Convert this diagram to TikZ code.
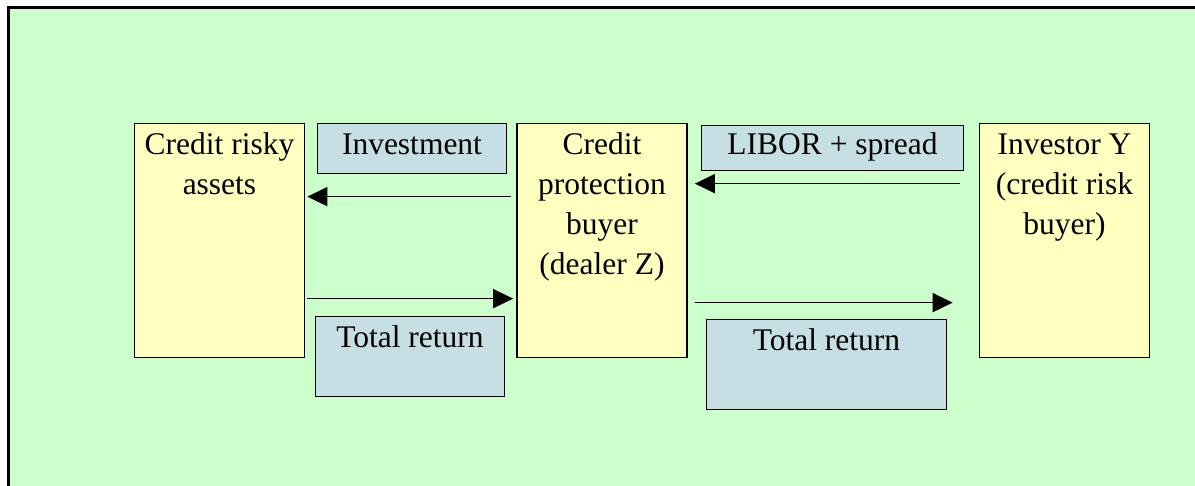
\documentclass[tikz,border=0pt]{standalone}
\usepackage{fontspec}
\setmainfont{Liberation Serif}
\usetikzlibrary{arrows.meta}
\definecolor{bggreen}{RGB}{204,255,204}
\definecolor{partyyellow}{RGB}{255,255,192}
\definecolor{flowblue}{RGB}{197,223,228}
\begin{document}
\begin{tikzpicture}[x=1pt,y=1pt,
  party/.style={draw=black, line width=1.7pt, fill=partyyellow,
    minimum width=170pt, minimum height=234pt, inner sep=0pt},
  flowbox/.style={draw=black, line width=1.7pt, fill=flowblue, inner sep=0pt},
  boxtext/.style={anchor=north, inner sep=0pt, align=center,
    font=\fontsize{31.5}{40}\selectfont},
  flowarrow/.style={line width=1.7pt, -{Triangle[length=20pt,width=19pt]}}]
  \useasboundingbox (0,0) rectangle (1195,486);
  \clip (0,0) rectangle (1195,486);
  % page background and frame
  \fill[bggreen] (8,-10) rectangle (1205,478);
  \draw[line width=3pt] (8,-10) |- (1205,478);

  % parties
  \node[party] (cra) at (219.5,245.5) {};
  \node[party] (cpb) at (602,245.5) {};
  \node[party] (invy) at (1064.5,245.5) {};

  % cash-flow labels
  \node[flowbox, minimum width=189pt, minimum height=50pt] (invest) at (412,337.5) {};
  \node[flowbox, minimum width=262pt, minimum height=45pt] (libor) at (832.5,338) {};
  \node[flowbox, minimum width=189pt, minimum height=80pt] (tr1) at (410,129.5) {};
  \node[flowbox, minimum width=240pt, minimum height=90pt] (tr2) at (826.5,121.5) {};

  % texts
  \node[boxtext] (craT) at ([yshift=-3.5pt]cra.north) {\strut Credit risky\\assets};
  \node[boxtext] (cpbT) at ([yshift=-3.5pt]cpb.north) {\strut Credit\\protection\\buyer\\(dealer Z)};
  \node[boxtext] (invyT) at ([yshift=-3.5pt]invy.north) {\strut Investor Y\\(credit risk\\buyer)};
  \node[boxtext] (investT) at ([yshift=-3.5pt]invest.north) {\strut Investment};
  \node[boxtext] (liborT) at ([yshift=-1.5pt]libor.north) {\strut LIBOR + spread};
  \node[boxtext] (tr1T) at ([yshift=-3.5pt]tr1.north) {\strut Total return};
  \node[boxtext] (tr2T) at ([yshift=-3.5pt]tr2.north) {\strut Total return};

  % flows
  \draw[flowarrow] ([xshift=-5pt,yshift=-74pt]cpb.north west) -- ([xshift=2pt,yshift=-74pt]cra.north east);
  \draw[flowarrow] ([xshift=-19pt,yshift=-61pt]invy.north west) -- ([xshift=7pt,yshift=-61pt]cpb.north east);
  \draw[flowarrow] ([xshift=2pt,yshift=-176pt]cra.north east) -- ([xshift=-3pt,yshift=-176pt]cpb.north west);
  \draw[flowarrow] ([xshift=7pt,yshift=-180pt]cpb.north east) -- ([xshift=-26pt,yshift=-180pt]invy.north west);
\end{tikzpicture}
\end{document}
